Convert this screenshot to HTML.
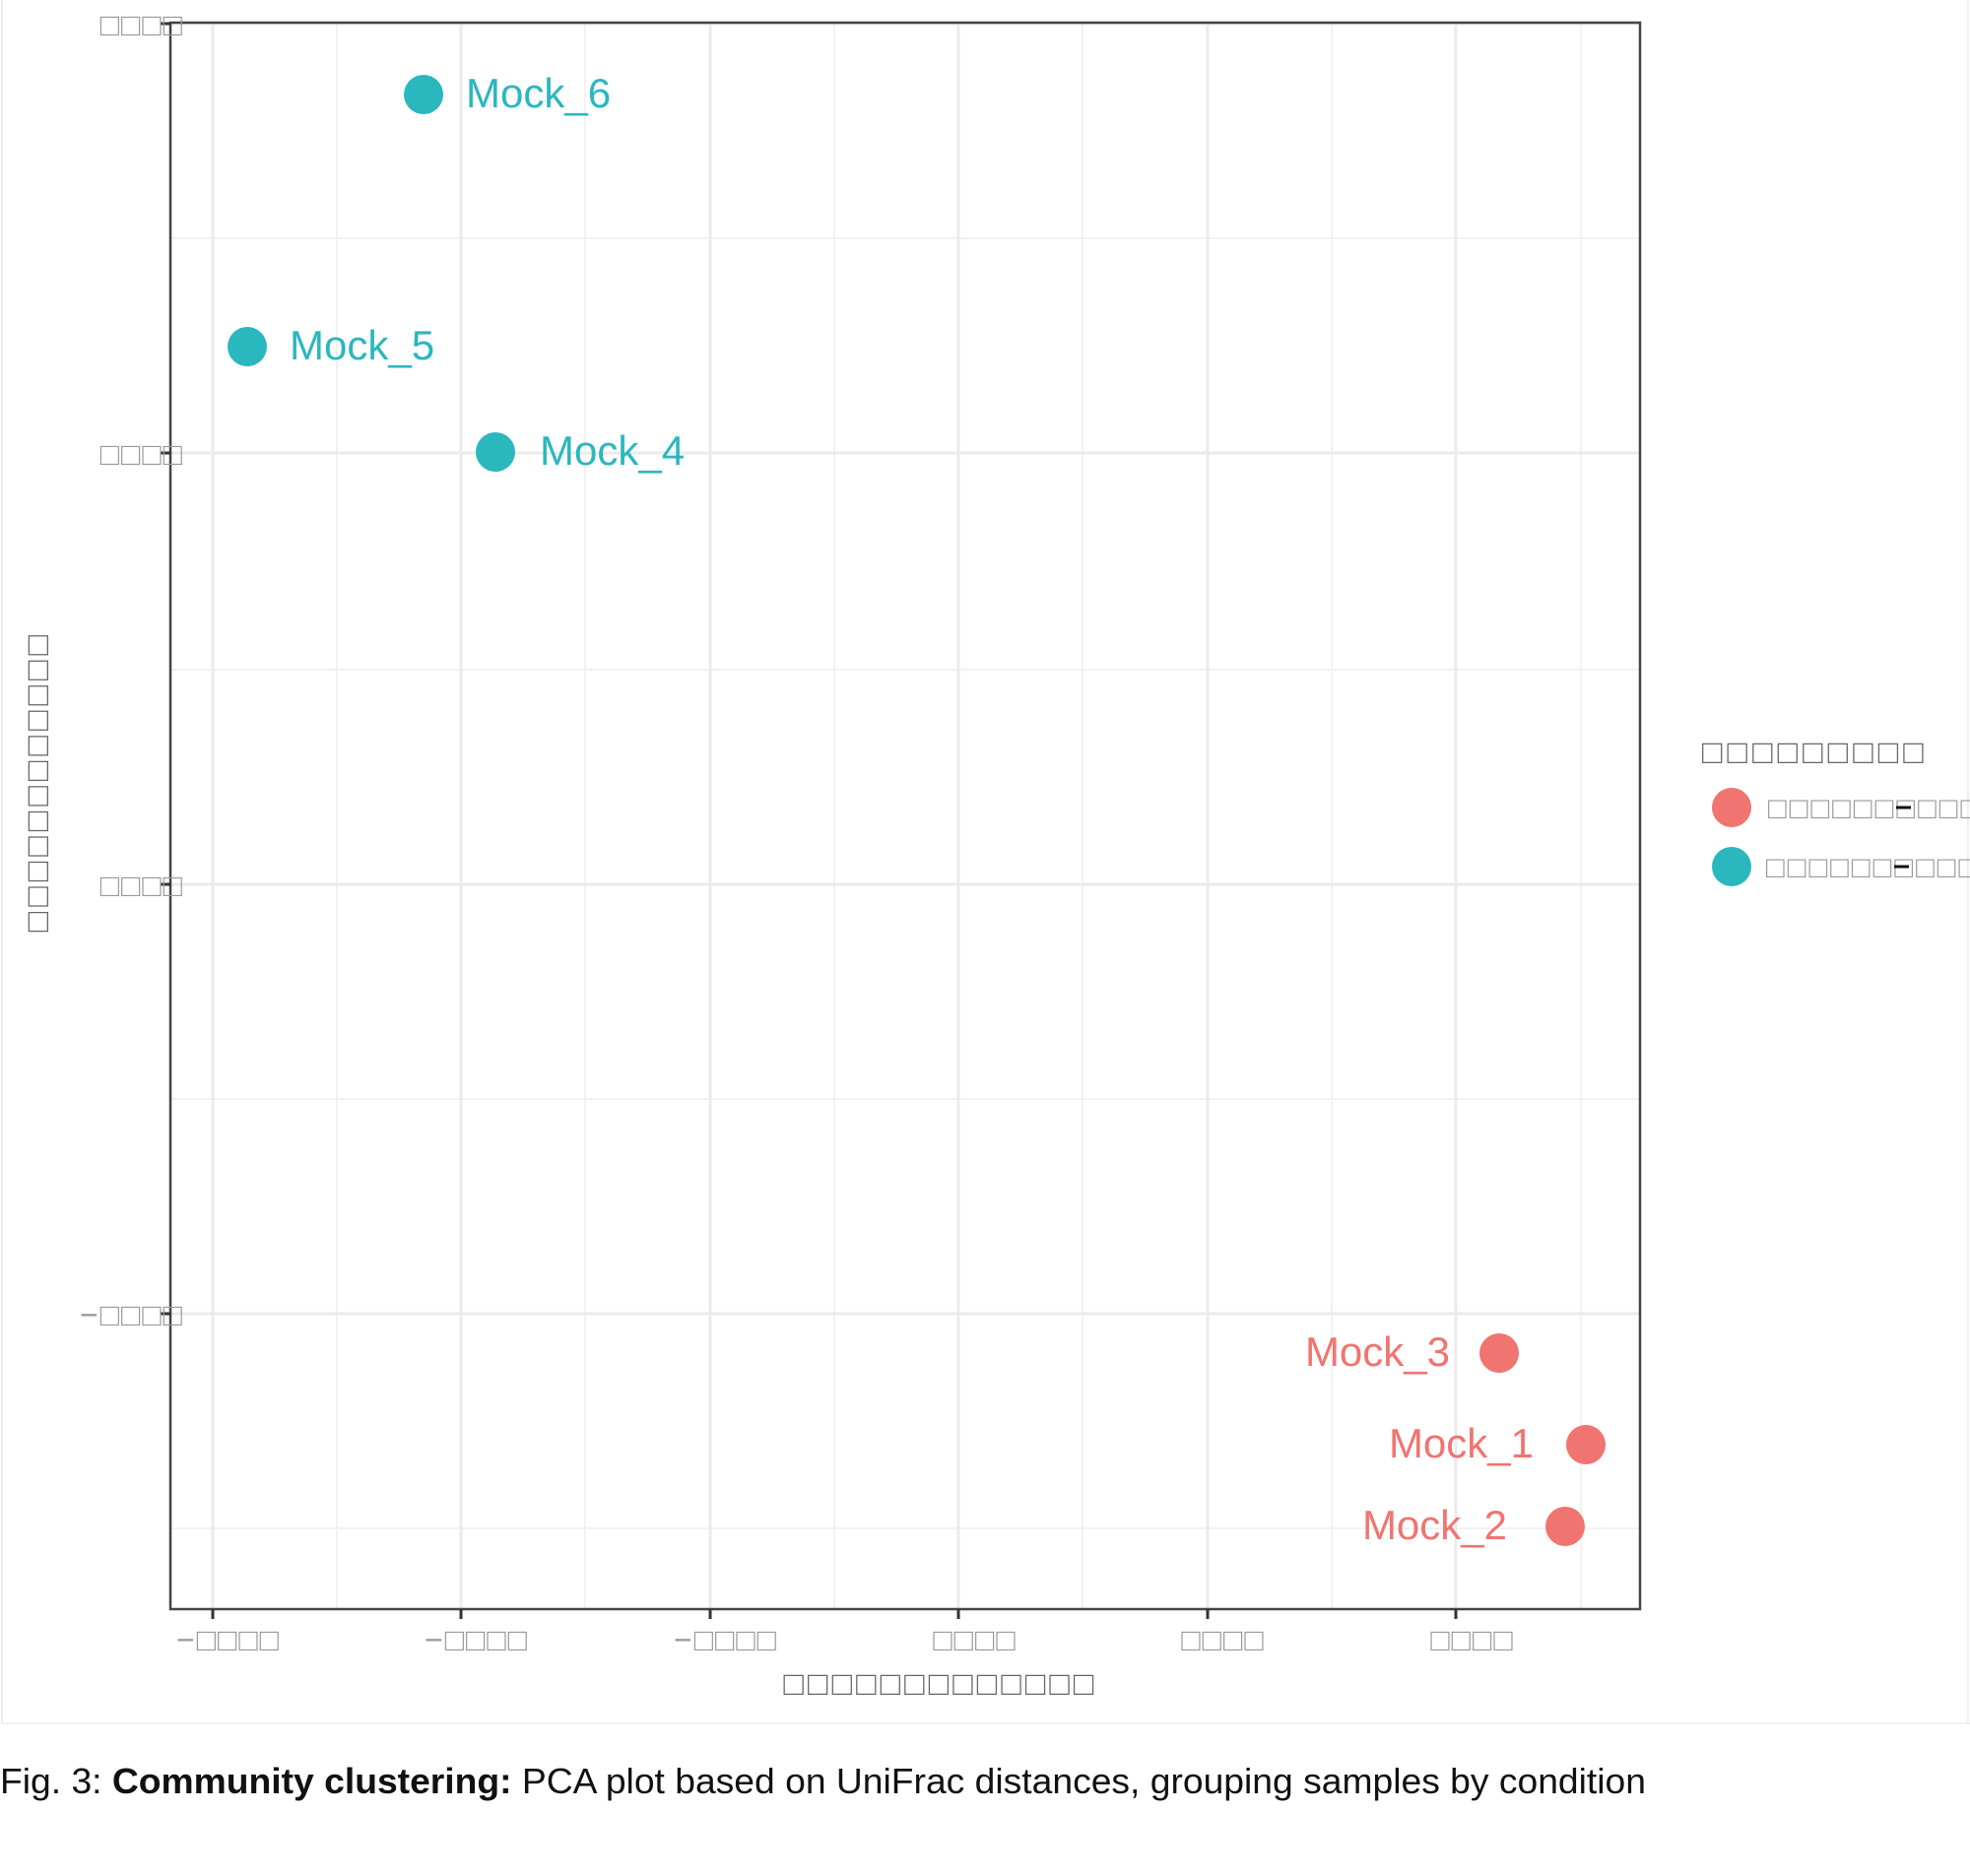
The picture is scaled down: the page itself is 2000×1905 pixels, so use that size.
<!DOCTYPE html>
<html><head><meta charset="utf-8"><style>html,body{margin:0;padding:0;background:#fff}svg{display:block}</style></head>
<body>
<svg width="2000" height="1905" xmlns="http://www.w3.org/2000/svg" font-family="Liberation Sans, DejaVu Sans, sans-serif">
<rect x="0" y="0" width="2000" height="1905" fill="#fff"/>
<line x1="2" y1="0" x2="2" y2="1750" stroke="#eee" stroke-width="2"/>
<line x1="1998" y1="0" x2="1998" y2="1750" stroke="#eee" stroke-width="2"/>
<line x1="0" y1="1750" x2="2000" y2="1750" stroke="#f2f2f2" stroke-width="2"/>
<g stroke="#f2f2f2" stroke-width="2">
<line x1="173" y1="242" x2="1665" y2="242"/><line x1="173" y1="680" x2="1665" y2="680"/>
<line x1="173" y1="1116" x2="1665" y2="1116"/><line x1="173" y1="1552" x2="1665" y2="1552"/>
<line x1="342" y1="23" x2="342" y2="1634"/><line x1="594" y1="23" x2="594" y2="1634"/>
<line x1="847" y1="23" x2="847" y2="1634"/><line x1="1099" y1="23" x2="1099" y2="1634"/>
<line x1="1352" y1="23" x2="1352" y2="1634"/><line x1="1605" y1="23" x2="1605" y2="1634"/>
</g>
<g stroke="#ebebeb" stroke-width="3">
<line x1="173" y1="24" x2="1665" y2="24"/><line x1="173" y1="460" x2="1665" y2="460"/>
<line x1="173" y1="898" x2="1665" y2="898"/><line x1="173" y1="1334" x2="1665" y2="1334"/>
<line x1="216" y1="23" x2="216" y2="1634"/><line x1="468" y1="23" x2="468" y2="1634"/>
<line x1="721" y1="23" x2="721" y2="1634"/><line x1="973" y1="23" x2="973" y2="1634"/>
<line x1="1226" y1="23" x2="1226" y2="1634"/><line x1="1478" y1="23" x2="1478" y2="1634"/>
</g>
<rect x="173" y="23" width="1492" height="1611" fill="none" stroke="#444" stroke-width="2.5"/>
<g stroke="#333" stroke-width="3">
<line x1="163" y1="24" x2="173" y2="24"/><line x1="163" y1="460" x2="173" y2="460"/>
<line x1="163" y1="898" x2="173" y2="898"/><line x1="163" y1="1334" x2="173" y2="1334"/>
<line x1="216" y1="1634" x2="216" y2="1644"/><line x1="468" y1="1634" x2="468" y2="1644"/>
<line x1="721" y1="1634" x2="721" y2="1644"/><line x1="973" y1="1634" x2="973" y2="1644"/>
<line x1="1226" y1="1634" x2="1226" y2="1644"/><line x1="1478" y1="1634" x2="1478" y2="1644"/>
</g>
<g fill="#999" font-size="32" text-anchor="end" letter-spacing="2">
<text x="187" y="36">□□□□</text><text x="187" y="472">□□□□</text>
<text x="187" y="910">□□□□</text><text x="187" y="1346">−□□□□</text>
</g>
<g fill="#999" font-size="32" text-anchor="middle" letter-spacing="2">
<text x="232" y="1676">−□□□□</text><text x="484" y="1676">−□□□□</text>
<text x="737" y="1676">−□□□□</text><text x="990" y="1676">□□□□</text>
<text x="1242" y="1676">□□□□</text><text x="1495" y="1676">□□□□</text>
</g>
<text x="955" y="1721" fill="#666" font-size="34" text-anchor="middle" letter-spacing="4">□□□□□□□□□□□□□</text>
<text transform="translate(49,793) rotate(-90)" fill="#666" font-size="34" text-anchor="middle" letter-spacing="5">□□□□□□□□□□□□</text>
<g fill="#2BB7BE">
<circle cx="430" cy="96" r="20"/><circle cx="251" cy="352" r="20"/><circle cx="503" cy="459" r="20"/>
</g>
<g fill="#F07470">
<circle cx="1522" cy="1374" r="20"/><circle cx="1610" cy="1467" r="20"/><circle cx="1589" cy="1550" r="20"/>
</g>
<g font-size="42" fill="#2BB7BE">
<text x="473" y="109">Mock_6</text><text x="294" y="365">Mock_5</text><text x="548" y="472">Mock_4</text>
</g>
<g font-size="42" fill="#F07470" text-anchor="end">
<text x="1472" y="1387">Mock_3</text><text x="1557" y="1480">Mock_1</text><text x="1530" y="1563">Mock_2</text>
</g>
<text x="1728" y="775" fill="#666" font-size="34" letter-spacing="5">□□□□□□□□□</text>
<circle cx="1758" cy="820" r="20" fill="#F07470"/>
<circle cx="1758" cy="880" r="20" fill="#2BB7BE"/>
<text x="1795" y="831" fill="#999" font-size="31" letter-spacing="3">□□□□□□□□□□□</text>
<text x="1793" y="891" fill="#999" font-size="31" letter-spacing="3">□□□□□□□□□□□</text>
<line x1="1925" y1="820" x2="1940" y2="820" stroke="#111" stroke-width="3"/>
<line x1="1923" y1="880" x2="1938" y2="880" stroke="#111" stroke-width="3"/>
<text x="0" y="1821" font-size="36" fill="#111" textLength="1671" lengthAdjust="spacingAndGlyphs">Fig. 3: <tspan font-weight="bold">Community clustering:</tspan> PCA plot based on UniFrac distances, grouping samples by condition</text>
</svg>
</body></html>
